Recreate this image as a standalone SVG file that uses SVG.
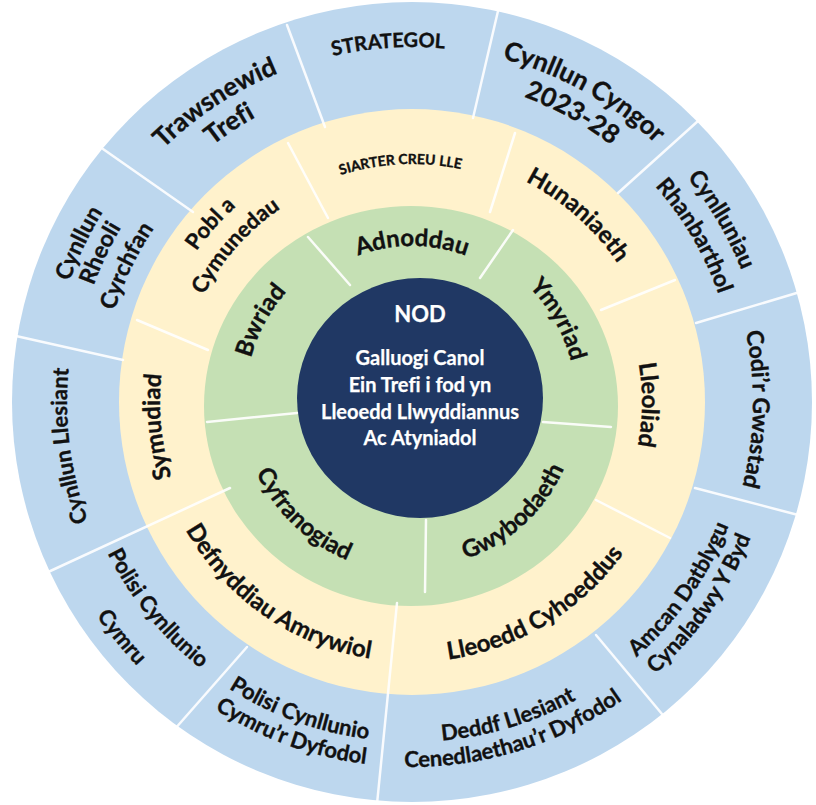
<svg xmlns="http://www.w3.org/2000/svg" width="816" height="805" viewBox="0 0 816 805">
<style>
.lb{font-family:Lato,"Open Sans","Liberation Sans",sans-serif;font-weight:700;fill:#111111;stroke:#111111;stroke-width:0.35;text-anchor:middle;font-variant-ligatures:none}
.ct{font-family:Lato,"Open Sans","Liberation Sans",sans-serif;font-weight:700;fill:#ffffff;stroke:#ffffff;stroke-width:0.25;text-anchor:middle;font-variant-ligatures:none}
.dv{stroke:#ffffff;stroke-width:2.5;stroke-linecap:round;fill:none;opacity:0.9}
</style>
<defs>
<path id="t355" d="M 62.4 340.37 A 355 355 0 0 1 761.6 340.37"/>
<path id="t325" d="M 91.94 345.58 A 325 325 0 0 1 732.06 345.58"/>
<path id="t341" d="M 76.18 342.8 A 341 341 0 0 1 747.82 342.8"/>
<path id="t345" d="M 72.24 342.11 A 345 345 0 0 1 751.76 342.11"/>
<path id="t363" d="M 54.52 338.98 A 363 363 0 0 1 769.48 338.98"/>
<path id="t339" d="M 78.15 343.15 A 339 339 0 0 1 745.85 343.15"/>
<path id="t311" d="M 105.73 348.01 A 311 311 0 0 1 718.27 348.01"/>
<path id="t238" d="M 177.62 360.68 A 238 238 0 0 1 646.38 360.68"/>
<path id="t248" d="M 167.77 358.95 A 248 248 0 0 1 656.23 358.95"/>
<path id="t230" d="M 185.5 362.07 A 230 230 0 0 1 638.5 362.07"/>
<path id="t252" d="M 163.83 358.25 A 252 252 0 0 1 660.17 358.25"/>
<path id="t263" d="M 153 356.34 A 263 263 0 0 1 671 356.34"/>
<path id="t234" d="M 181.56 361.38 A 234 234 0 0 1 642.44 361.38"/>
<path id="t156" d="M 258.37 374.92 A 156 156 0 0 1 565.63 374.92"/>
<path id="t164" d="M 250.49 373.53 A 164 164 0 0 1 573.51 373.53"/>
<path id="t167" d="M 247.54 373.01 A 167 167 0 0 1 576.46 373.01"/>
<path id="b340" d="M 77.17 461.02 A 340 340 0 0 0 746.83 461.02"/>
<path id="b365" d="M 52.55 465.36 A 365 365 0 0 0 771.45 465.36"/>
<path id="b381" d="M 36.79 468.14 A 381 381 0 0 0 787.21 468.14"/>
<path id="b260" d="M 155.95 447.14 A 260 260 0 0 0 668.05 447.14"/>
<path id="b166" d="M 248.52 430.82 A 166 166 0 0 0 575.48 430.82"/>
<path id="b171" d="M 243.6 431.69 A 171 171 0 0 0 580.4 431.69"/>
</defs>

<g id="rings">
<circle cx="412" cy="402" r="400" fill="#bdd7ee"/>
<circle cx="412" cy="402" r="293" fill="#fff2cc"/>
<ellipse cx="411" cy="406" rx="207" ry="200" fill="#c5e0b4"/>
<ellipse id="nod-circle" cx="420" cy="398" rx="123" ry="120" fill="#203864"/>
</g>

<g id="connectors">
<line class="dv" x1="287" y1="25" x2="325" y2="127"/>
<line class="dv" x1="498" y1="11" x2="473" y2="118"/>
<line class="dv" x1="698" y1="121" x2="618" y2="193"/>
<line class="dv" x1="800" y1="292" x2="696" y2="323"/>
<line class="dv" x1="695" y1="488" x2="802" y2="516"/>
<line class="dv" x1="596" y1="635" x2="667" y2="720"/>
<line class="dv" x1="397" y1="603" x2="377" y2="804"/>
<line class="dv" x1="247" y1="647" x2="174" y2="730"/>
<line class="dv" x1="230" y1="488" x2="46" y2="573"/>
<line class="dv" x1="16" y1="336" x2="123" y2="360"/>
<line class="dv" x1="103" y1="149" x2="193" y2="212"/>
<line class="dv" x1="288" y1="143" x2="328" y2="218"/>
<line class="dv" x1="515" y1="133" x2="490" y2="212"/>
<line class="dv" x1="675" y1="280" x2="601" y2="310"/>
<line class="dv" x1="596" y1="500" x2="670" y2="538"/>
<line class="dv" x1="137" y1="320" x2="208" y2="350"/>
<line class="dv" x1="308" y1="237" x2="350" y2="285"/>
<line class="dv" x1="513" y1="230" x2="480" y2="278"/>
<line class="dv" x1="543" y1="422" x2="611" y2="427"/>
<line class="dv" x1="426" y1="520" x2="425" y2="592"/>
<line class="dv" x1="207" y1="422" x2="297" y2="413"/>
</g>

<g id="trawsnewid-trefi" transform="rotate(-33.3 412 402)">
<text class="lb" font-size="26"><textPath href="#t355" startOffset="50%">Trawsnewid</textPath></text>
<text class="lb" font-size="26"><textPath href="#t325" startOffset="50%">Trefi</textPath></text>
</g>
<g id="strategol" transform="rotate(-3.8 412 402)">
<text class="lb" font-size="20"><textPath href="#t355" startOffset="50%">STRATEGOL</textPath></text>
</g>
<g id="cynllun-cyngor" transform="rotate(29 412 402)">
<text class="lb" font-size="26"><textPath href="#t355" startOffset="50%">Cynllun Cyngor</textPath></text>
<text class="lb" font-size="26"><textPath href="#t325" startOffset="50%">2023-28</textPath></text>
</g>
<g id="cynlluniau-rhanbarthol" transform="rotate(59.5 412 402)">
<text class="lb" font-size="23"><textPath href="#t355" startOffset="50%">Cynlluniau</textPath></text>
<text class="lb" font-size="23"><textPath href="#t325" startOffset="50%">Rhanbarthol</textPath></text>
</g>
<g id="codir-gwastad" transform="rotate(91.2 412 402)">
<text class="lb" font-size="23"><textPath href="#t341" startOffset="50%">Codi’r Gwastad</textPath></text>
</g>
<g id="amcan-datblygu" transform="rotate(-55 412 402)">
<text class="lb" font-size="22"><textPath href="#b340" startOffset="50%">Amcan Datblygu</textPath></text>
<text class="lb" font-size="22"><textPath href="#b365" startOffset="50%">Cynaladwy Y Byd</textPath></text>
</g>
<g id="deddf-llesiant" transform="rotate(-17 412 402)">
<text class="lb" font-size="22"><textPath href="#b340" startOffset="50%">Deddf Llesiant</textPath></text>
<text class="lb" font-size="22"><textPath href="#b365" startOffset="50%">Cenedlaethau’r Dyfodol</textPath></text>
</g>
<g id="polisi-cymrur-dyfodol" transform="rotate(20 412 402)">
<text class="lb" font-size="22"><textPath href="#b340" startOffset="50%">Polisi Cynllunio</textPath></text>
<text class="lb" font-size="22"><textPath href="#b365" startOffset="50%">Cymru’r Dyfodol</textPath></text>
</g>
<g id="polisi-cymru" transform="rotate(51 412 402)">
<text class="lb" font-size="22"><textPath href="#b340" startOffset="50%">Polisi Cynllunio</textPath></text>
<text class="lb" font-size="22"><textPath href="#b381" startOffset="50%">Cymru</textPath></text>
</g>
<g id="cynllun-llesiant" transform="rotate(262.7 412 402)">
<text class="lb" font-size="22"><textPath href="#t345" startOffset="50%">Cynllun Llesiant</textPath></text>
</g>
<g id="cynllun-rheoli-cyrchfan" transform="rotate(-64.5 412 402)">
<text class="lb" font-size="23"><textPath href="#t363" startOffset="50%">Cynllun</textPath></text>
<text class="lb" font-size="23"><textPath href="#t339" startOffset="50%">Rheoli</textPath></text>
<text class="lb" font-size="23"><textPath href="#t311" startOffset="50%">Cyrchfan</textPath></text>
</g>

<g id="siarter-creu-lle" transform="rotate(-2.8 412 402)">
<text class="lb" font-size="14"><textPath href="#t238" startOffset="50%">SIARTER CREU LLE</textPath></text>
</g>
<g id="hunaniaeth" transform="rotate(41.6 412 402)">
<text class="lb" font-size="24"><textPath href="#t248" startOffset="50%">Hunaniaeth</textPath></text>
</g>
<g id="lleoliad" transform="rotate(90.7 412 402)">
<text class="lb" font-size="24"><textPath href="#t230" startOffset="50%">Lleoliad</textPath></text>
</g>
<g id="lleoedd-cyhoeddus" transform="rotate(-31.2 412 402)">
<text class="lb" font-size="24"><textPath href="#b260" startOffset="50%">Lleoedd Cyhoeddus</textPath></text>
</g>
<g id="defnyddiau-amrywiol" transform="rotate(34.9 412 402)">
<text class="lb" font-size="24"><textPath href="#b260" startOffset="50%">Defnyddiau Amrywiol</textPath></text>
</g>
<g id="symudiad" transform="rotate(264.5 412 402)">
<text class="lb" font-size="24"><textPath href="#t252" startOffset="50%">Symudiad</textPath></text>
</g>
<g id="pobl-a-cymunedau" transform="rotate(-48.5 412 402)">
<text class="lb" font-size="22"><textPath href="#t263" startOffset="50%">Pobl a</textPath></text>
<text class="lb" font-size="22"><textPath href="#t234" startOffset="50%">Cymunedau</textPath></text>
</g>

<g id="adnoddau">
<text class="lb" font-size="24"><textPath href="#t156" startOffset="50%">Adnoddau</textPath></text>
</g>
<g id="ymyriad" transform="rotate(60.6 412 402)">
<text class="lb" font-size="24"><textPath href="#t164" startOffset="50%">Ymyriad</textPath></text>
</g>
<g id="gwybodaeth" transform="rotate(-42.6 412 402)">
<text class="lb" font-size="24"><textPath href="#b166" startOffset="50%">Gwybodaeth</textPath></text>
</g>
<g id="cyfranogiad" transform="rotate(44 412 402)">
<text class="lb" font-size="24"><textPath href="#b171" startOffset="50%">Cyfranogiad</textPath></text>
</g>
<g id="bwriad" transform="rotate(-61.7 412 402)">
<text class="lb" font-size="24"><textPath href="#t167" startOffset="50%">Bwriad</textPath></text>
</g>

<g id="nod">
<text class="ct" x="420" y="322" font-size="22">NOD</text>
<text class="ct" x="420" y="365" font-size="20">Galluogi Canol</text>
<text class="ct" x="420" y="392" font-size="20">Ein Trefi i fod yn</text>
<text class="ct" x="420" y="419" font-size="20">Lleoedd Llwyddiannus</text>
<text class="ct" x="420" y="445" font-size="20">Ac Atyniadol</text>
</g>
</svg>
